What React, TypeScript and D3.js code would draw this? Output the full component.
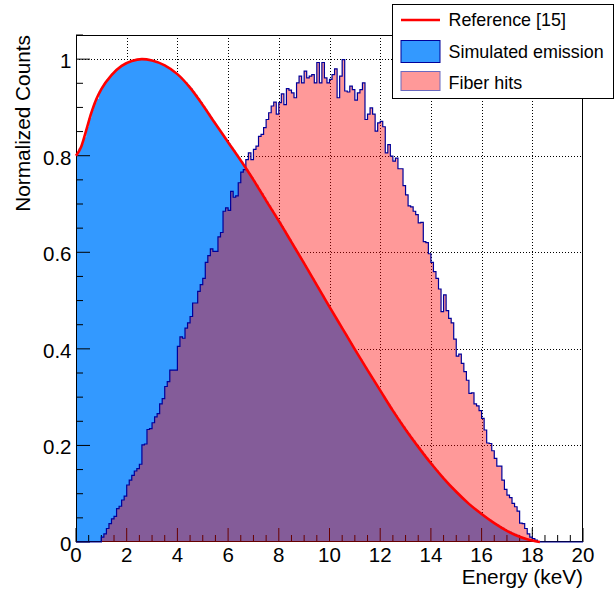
import React from "react";
import * as d3 from "d3";

// ---- data ----
const binWidth = 0.1; // keV, 200 bins from 0 to 20
const nBins = 200;

// Simulated emission histogram (bins 0..182, rest zero)
const simulatedEmission: number[] = [
  0.805, 0.815, 0.826, 0.838, 0.860, 0.878, 0.895, 0.910, 0.918, 0.934,
  0.943, 0.951, 0.958, 0.965, 0.971, 0.976, 0.980, 0.984, 0.988, 0.991,
  0.993, 0.995, 0.997, 0.998, 0.999, 1.000, 1.000, 0.999, 0.998, 0.997,
  0.996, 0.994, 0.992, 0.990, 0.988, 0.985, 0.982, 0.979, 0.975, 0.971,
  0.967, 0.962, 0.957, 0.952, 0.946, 0.940, 0.933, 0.926, 0.919, 0.911,
  0.903, 0.895, 0.887, 0.879, 0.871, 0.863, 0.855, 0.847, 0.839, 0.831,
  0.826, 0.818, 0.811, 0.803, 0.796, 0.788, 0.780, 0.772, 0.764, 0.756,
  0.748, 0.740, 0.731, 0.723, 0.714, 0.705, 0.697, 0.688, 0.680, 0.671,
  0.663, 0.654, 0.645, 0.636, 0.627, 0.618, 0.609, 0.600, 0.591, 0.582,
  0.573, 0.564, 0.555, 0.546, 0.537, 0.528, 0.519, 0.510, 0.501, 0.492,
  0.483, 0.474, 0.465, 0.456, 0.447, 0.438, 0.430, 0.421, 0.412, 0.404,
  0.395, 0.386, 0.378, 0.369, 0.361, 0.352, 0.344, 0.335, 0.327, 0.319,
  0.310, 0.302, 0.294, 0.286, 0.278, 0.270, 0.262, 0.254, 0.247, 0.239,
  0.232, 0.224, 0.217, 0.210, 0.203, 0.196, 0.189, 0.182, 0.175, 0.168,
  0.162, 0.155, 0.149, 0.142, 0.136, 0.130, 0.124, 0.118, 0.113, 0.107,
  0.102, 0.097, 0.092, 0.087, 0.082, 0.077, 0.073, 0.069, 0.065, 0.061,
  0.057, 0.053, 0.049, 0.046, 0.042, 0.039, 0.036, 0.033, 0.030, 0.027,
  0.024, 0.022, 0.019, 0.017, 0.015, 0.012, 0.010, 0.008, 0.006, 0.005,
  0.003, 0.002, 0.001,
];

// Fiber hits histogram (bins 0..182, rest zero)
const fiberHits: number[] = [
  0, 0, 0, 0, 0, 0, 0, 0, 0, 0,
  0.010, 0.017, 0.028, 0.038, 0.048, 0.053, 0.069, 0.074, 0.087, 0.095,
  0.118, 0.128, 0.138, 0.147, 0.152, 0.161, 0.201, 0.203, 0.233, 0.235,
  0.247, 0.259, 0.266, 0.286, 0.297, 0.322, 0.332, 0.356, 0.356, 0.356,
  0.405, 0.425, 0.422, 0.443, 0.454, 0.467, 0.495, 0.495, 0.519, 0.533,
  0.546, 0.579, 0.593, 0.607, 0.602, 0.602, 0.632, 0.641, 0.685, 0.692,
  0.687, 0.726, 0.714, 0.717, 0.744, 0.766, 0.771, 0.792, 0.806, 0.792,
  0.813, 0.820, 0.840, 0.844, 0.858, 0.875, 0.889, 0.903, 0.911, 0.886,
  0.910, 0.928, 0.906, 0.939, 0.936, 0.930, 0.920, 0.951, 0.965, 0.951,
  0.975, 0.961, 0.965, 0.968, 0.951, 0.993, 0.951, 0.993, 0.961, 0.951,
  0.958, 0.968, 0.980, 0.920, 0.965, 0.999, 0.934, 0.932, 0.944, 0.937,
  0.915, 0.930, 0.937, 0.951, 0.875, 0.886, 0.899, 0.886, 0.851, 0.868,
  0.871, 0.860, 0.806, 0.823, 0.799, 0.789, 0.795, 0.773, 0.773, 0.738,
  0.719, 0.696, 0.694, 0.685, 0.678, 0.661, 0.662, 0.622, 0.620, 0.597,
  0.579, 0.560, 0.546, 0.524, 0.477, 0.512, 0.479, 0.463, 0.454, 0.420,
  0.385, 0.389, 0.370, 0.353, 0.335, 0.308, 0.309, 0.286, 0.282, 0.272,
  0.256, 0.232, 0.205, 0.204, 0.189, 0.173, 0.157, 0.157, 0.128, 0.109,
  0.097, 0.092, 0.080, 0.073, 0.064, 0.039, 0.038, 0.028, 0.017, 0.010,
  0.007, 0.004, 0.001,
];

// Reference [15] curve
const refEnergy: number[] = [
  0, 0.2, 0.4, 0.6, 0.8, 1.0, 1.4, 1.8, 2.2, 2.6, 3.0, 3.5, 4.0, 4.5, 5.0,
  5.5, 6.0, 6.5, 7.0, 7.5, 8.0, 8.5, 9.0, 9.5, 10, 10.5, 11, 11.5, 12, 12.5,
  13, 13.5, 14, 14.5, 15, 15.5, 16, 16.5, 17, 17.5, 18, 18.3,
];
const refValue: number[] = [
  0.8, 0.818, 0.852, 0.888, 0.917, 0.938, 0.967, 0.986, 0.996, 1.0, 0.997,
  0.987, 0.969, 0.941, 0.905, 0.866, 0.828, 0.79, 0.75, 0.707, 0.665, 0.621,
  0.577, 0.532, 0.487, 0.443, 0.399, 0.356, 0.314, 0.272, 0.233, 0.197,
  0.163, 0.132, 0.104, 0.079, 0.058, 0.039, 0.023, 0.011, 0.003, 0.0,
];

const xTickValues: number[] = [0, 2, 4, 6, 8, 10, 12, 14, 16, 18, 20];
const xTickLabels: string[] = ["0", "2", "4", "6", "8", "10", "12", "14", "16", "18", "20"];
const yTickValues: number[] = [0, 0.2, 0.4, 0.6, 0.8, 1.0];
const yTickLabels: string[] = ["0", "0.2", "0.4", "0.6", "0.8", "1"];

const legendLabels: string[] = ["Reference [15]", "Simulated emission", "Fiber hits"];
const xTitle = "Energy (keV)";
const yTitle = "Normalized Counts";

// ---- layout ----
const W = 616;
const H = 592;
const L = 76, R = 583, T = 35, B = 542;
const FONT = "'Liberation Sans', Arial, Helvetica, sans-serif";

const BLUE = "#3399ff";
const NAVY = "#000099";
const PINK = "rgba(255,0,0,0.4)";

export default function App() {
  const x = d3.scaleLinear().domain([0, 20]).range([L, R]);
  const y = d3.scaleLinear().domain([0, 1.05]).range([B, T]);

  const bins = (vals: number[]) =>
    d3.range(nBins).map((i) => ({ x0: i * binWidth, x1: (i + 1) * binWidth, v: vals[i] ?? 0 }));

  const stepLine = (vals: number[]) => {
    const p = d3.path();
    const bs = bins(vals);
    p.moveTo(x(0), y(0));
    bs.forEach((b) => {
      p.lineTo(x(b.x0), y(b.v));
      p.lineTo(x(b.x1), y(b.v));
    });
    p.lineTo(x(20), y(0));
    return p.toString();
  };
  const stepArea = (vals: number[]) => stepLine(vals) + "Z";

  const refLine = d3
    .line<number>()
    .x((_, i) => x(refEnergy[i]))
    .y((d) => y(d))
    .curve(d3.curveMonotoneX)(refValue) as string;

  const xMinor = d3.range(0, 20.001, 0.5).filter((v) => Math.abs(v / 2 - Math.round(v / 2)) > 1e-6);
  const yMinor = d3.range(0, 1.0501, 0.05).filter((v) => Math.abs(v / 0.2 - Math.round(v / 0.2)) > 1e-6);

  const gridX = xTickValues.filter((v) => v > 0 && v < 20);
  const gridY = yTickValues.filter((v) => v > 0);

  const tickLen = 14;
  const minorLen = 7;

  return (
    <svg
      width={W}
      height={H}
      style={{ position: "absolute", left: 0, top: 0, background: "#fff" }}
      fontFamily={FONT}
    >
      <rect x={0} y={0} width={W} height={H} fill="#fff" />
      {/* grid */}
      <g stroke="#000" strokeWidth={1} strokeDasharray="1 2">
        {gridX.map((v) => (
          <line key={"gx" + v} x1={Math.round(x(v)) + 0.5} x2={Math.round(x(v)) + 0.5} y1={T} y2={B} />
        ))}
        {gridY.map((v) => (
          <line key={"gy" + v} x1={L} x2={R} y1={Math.round(y(v)) + 0.5} y2={Math.round(y(v)) + 0.5} />
        ))}
      </g>
      {/* simulated emission */}
      <path d={stepArea(simulatedEmission)} fill={BLUE} stroke="none" />
      {/* ticks and frame */}
      <g stroke="#000" strokeWidth={1}>
        {xTickValues.map((v) => (
          <line key={"xt" + v} x1={x(v)} x2={x(v)} y1={B} y2={B - tickLen} />
        ))}
        {xMinor.map((v) => (
          <line key={"xm" + v} x1={x(v)} x2={x(v)} y1={B} y2={B - minorLen} />
        ))}
        {yTickValues.map((v) => (
          <line key={"yt" + v} x1={L} x2={L + tickLen} y1={y(v)} y2={y(v)} />
        ))}
        {yMinor.map((v) => (
          <line key={"ym" + v} x1={L} x2={L + minorLen} y1={y(v)} y2={y(v)} />
        ))}
        <rect x={L + 0.5} y={T + 0.5} width={R - L - 1} height={B - T - 1} fill="none" />
      </g>
      {/* fiber hits */}
      <path d={stepArea(fiberHits)} fill={PINK} stroke="none" />
      <path d={stepLine(fiberHits)} fill="none" stroke={NAVY} strokeWidth={1.2} />
      {/* reference curve */}
      <path d={refLine} fill="none" stroke="#ff0000" strokeWidth={2.6} />
      {/* tick labels */}
      <g fontSize={20.5} fill="#000">
        {xTickValues.map((v, i) => (
          <text key={"xl" + v} x={x(v)} y={562} textAnchor="middle">
            {xTickLabels[i]}
          </text>
        ))}
        {yTickValues.map((v, i) => (
          <text key={"yl" + v} x={71.5} y={y(v) + 9} textAnchor="end">
            {yTickLabels[i]}
          </text>
        ))}
      </g>
      {/* axis titles */}
      <text x={R} y={583.5} fontSize={20.8} textAnchor="end">
        {xTitle}
      </text>
      <text transform={`translate(29.5,${T}) rotate(-90)`} fontSize={20.8} textAnchor="end">
        {yTitle}
      </text>
      {/* legend */}
      <g>
        <rect x={392.5} y={4.5} width={221} height={94} fill="#fff" stroke="#000" strokeWidth={1} />
        <line x1={401} x2={440} y1={20} y2={20} stroke="#ff0000" strokeWidth={2.6} />
        <rect x={401} y={40.5} width={39} height={22} fill={BLUE} stroke={NAVY} strokeWidth={1} />
        <rect x={401} y={71.5} width={39} height={19} fill={PINK} stroke="#6a6ac0" strokeWidth={1} />
        {legendLabels.map((t, i) => (
          <text key={t} x={448.5} y={[26, 57.5, 89][i]} fontSize={17.9} fill="#000">
            {t}
          </text>
        ))}
      </g>
    </svg>
  );
}
